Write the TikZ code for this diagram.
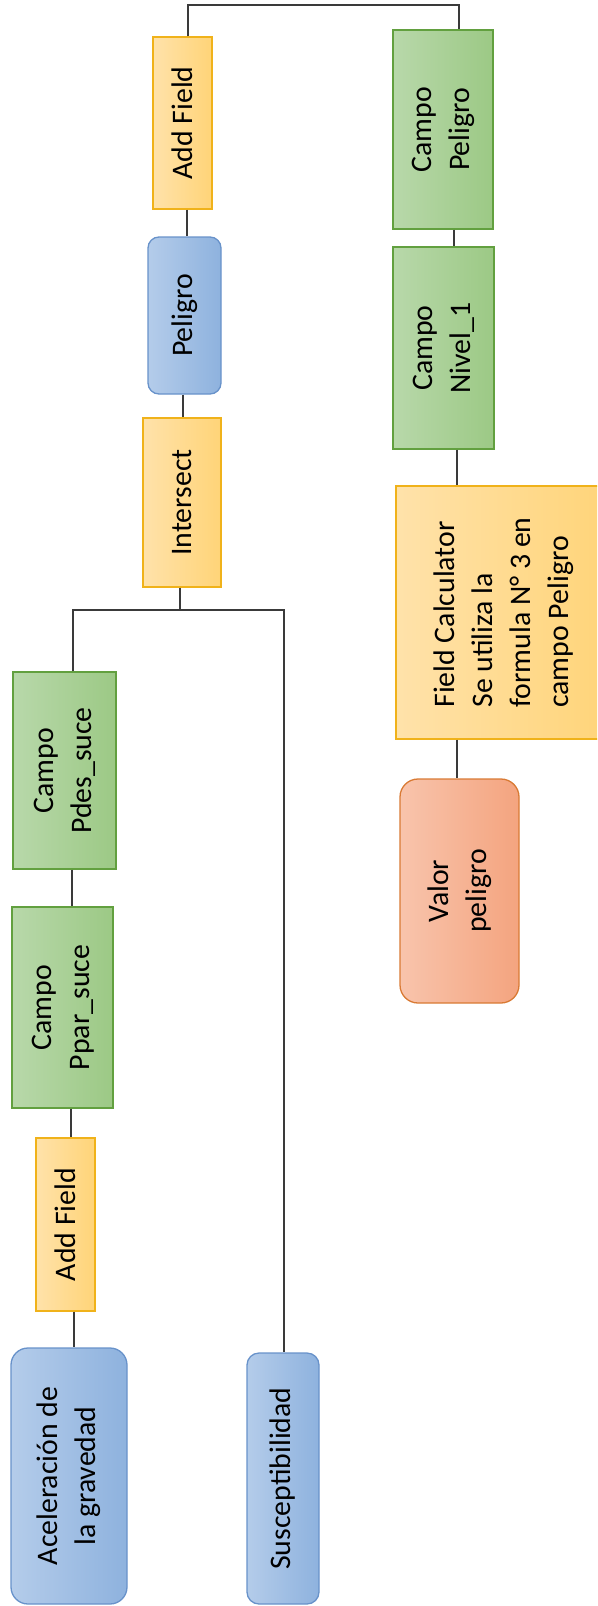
\documentclass[tikz,border=0pt]{standalone}
\usepackage{fontspec}
\setmainfont{Carlito}
\definecolor{yelL}{HTML}{FFE2AA}
\definecolor{yelR}{HTML}{FFD478}
\definecolor{yelD}{HTML}{F0B21A}
\definecolor{grnL}{HTML}{B8D8AA}
\definecolor{grnR}{HTML}{9CC985}
\definecolor{grnD}{HTML}{62A03F}
\definecolor{bluL}{HTML}{B4CCEA}
\definecolor{bluR}{HTML}{8EB2DE}
\definecolor{bluD}{HTML}{6892CA}
\definecolor{redL}{HTML}{F8C4AC}
\definecolor{redR}{HTML}{F4A47F}
\definecolor{redD}{HTML}{D97A34}
\definecolor{lineC}{HTML}{3A3A3A}
\begin{document}
\begin{tikzpicture}[x=1pt,y=-1pt,
  box/.style={draw, line width=1.3pt, inner sep=0pt, text=black,
    font=\fontsize{29.8}{38}\selectfont},
  yel/.style={box, draw=yelD, left color=yelL, right color=yelR},
  grn/.style={box, draw=grnD, left color=grnL, right color=grnR},
  blu/.style={box, draw=bluD, left color=bluL, right color=bluR},
  red/.style={box, draw=redD, left color=redL, right color=redR},
  conn/.style={draw=lineC, line width=1.4pt}]
\useasboundingbox (0,0) rectangle (597,1606);
\clip (0,0) rectangle (597,1606);

% left column upper
\node[yel, minimum width=59pt, minimum height=172pt] (af1) at (182.5,123) {\rotatebox{90}{Add Field}};
\node[blu, rounded corners=11pt, minimum width=73pt, minimum height=157pt] (pel) at (184.5,315.5) {\rotatebox{90}{Peligro}};
\node[yel, minimum width=78pt, minimum height=169pt] (inter) at (182,502.5) {\rotatebox{90}{Intersect}};

% right column
\node[grn, minimum width=100pt, minimum height=199pt] (cpel) at (443,129.5) {\rotatebox{90}{\begin{tabular}{@{}c@{}}Campo\\Peligro\end{tabular}}};
\node[grn, minimum width=101pt, minimum height=202pt] (cniv) at (443.5,348) {\rotatebox{90}{\begin{tabular}{@{}c@{}}Campo\\Nivel\_1\end{tabular}}};
\node[yel, minimum width=216pt, minimum height=253pt] (fcal) at (504,612.5) {\rotatebox{90}{\begin{tabular}{@{}l@{}}Field Calculator\\Se utiliza la\\formula N° 3 en\\campo Peligro\end{tabular}}};
\node[red, rounded corners=18pt, minimum width=119pt, minimum height=224pt] (valor) at (459.5,891) {\rotatebox{90}{\begin{tabular}{@{}c@{}}Valor\\peligro\end{tabular}}};

% lower left
\node[grn, minimum width=103pt, minimum height=197pt] (pdes) at (64.5,770.5) {\rotatebox{90}{\begin{tabular}{@{}c@{}}Campo\\Pdes\_suce\end{tabular}}};
\node[grn, minimum width=101pt, minimum height=201pt] (ppar) at (62.5,1007.5) {\rotatebox{90}{\begin{tabular}{@{}c@{}}Campo\\Ppar\_suce\end{tabular}}};
\node[yel, minimum width=59pt, minimum height=173pt] (af2) at (65.5,1224.5) {\rotatebox{90}{Add Field}};
\node[blu, rounded corners=17pt, minimum width=116pt, minimum height=256pt] (acel) at (69,1476) {\rotatebox{90}{\begin{tabular}{@{}c@{}}Aceleración de\\la gravedad\end{tabular}}};
\node[blu, rounded corners=12pt, minimum width=72pt, minimum height=251pt] (susc) at (283,1478.5) {\rotatebox{90}{Susceptibilidad}};

% connector trunks
\coordinate (tL) at (188,5);
\coordinate (tR) at (459,5);
\coordinate (bL) at (73,610);
\coordinate (bR) at (284,610);
\coordinate (bM) at (180,610);

\draw[conn] (af1.north -| tL) -- (tL) -- (tR) -- (cpel.north -| tR);
\draw[conn] (af1.south -| 187,0) -- (pel.north -| 187,0);
\draw[conn] (pel.south -| 183,0) -- (inter.north -| 183,0);
\draw[conn] (inter.south -| bM) -- (bM);
\draw[conn] (pdes.north -| bL) -- (bL) -- (bR) -- (susc.north -| bR);
\draw[conn] (pdes.south -| 72,0) -- (ppar.north -| 72,0);
\draw[conn] (ppar.south -| 71,0) -- (af2.north -| 71,0);
\draw[conn] (af2.south -| 74,0) -- (acel.north -| 74,0);
\draw[conn] (cpel.south -| 454,0) -- (cniv.north -| 454,0);
\draw[conn] (cniv.south -| 457,0) -- (fcal.north -| 457,0);
\draw[conn] (fcal.south -| 457,0) -- (valor.north -| 457,0);
\end{tikzpicture}
\end{document}
